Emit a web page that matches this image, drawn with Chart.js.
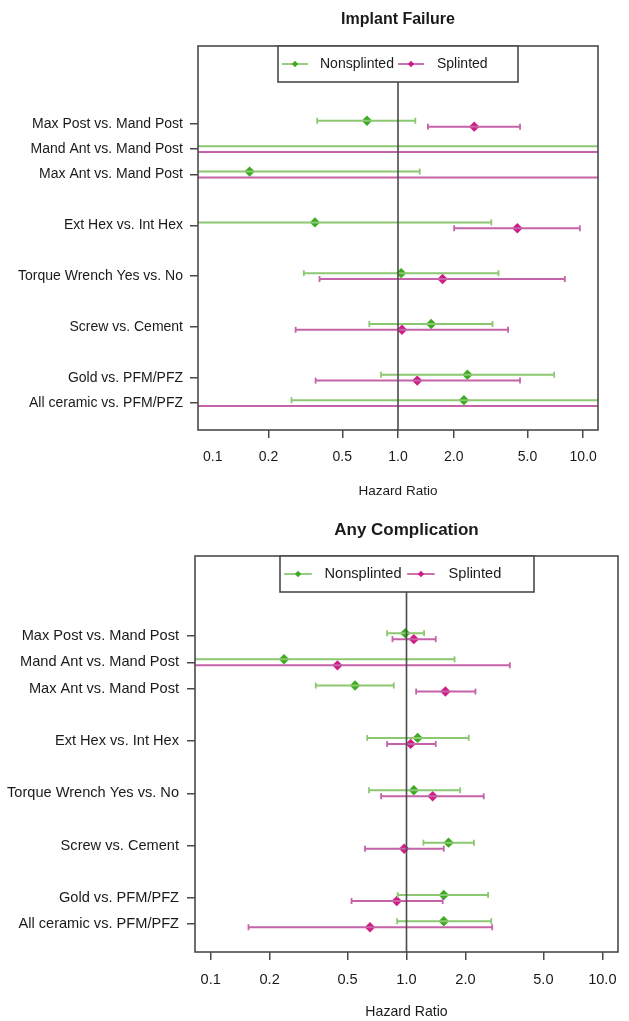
<!DOCTYPE html>
<html>
<head>
<meta charset="utf-8">
<title>Hazard ratios, splinted vs nonsplinted</title>
<script src="https://cdn.jsdelivr.net/npm/chart.js@4.4.1/dist/chart.umd.min.js"></script>
<style>
  html, body { margin: 0; padding: 0; background: #fff; }
  canvas { display: block; }
</style>
</head>
<body>
<canvas id="implantFailure" width="629" height="510"></canvas>
<canvas id="anyComplication" width="629" height="511"></canvas>
<script>
// Rows, top to bottom, and where they sit on the y scale
const comparisons = [
  'Max Post vs. Mand Post',
  'Mand Ant vs. Mand Post',
  'Max Ant vs. Mand Post',
  'Ext Hex vs. Int Hex',
  'Torque Wrench Yes vs. No',
  'Screw vs. Cement',
  'Gold vs. PFM/PFZ',
  'All ceramic vs. PFM/PFZ'
];
const rowPositions = [12, 11, 10, 8, 6, 4, 2, 1];
const hrTicks = [0.1, 0.2, 0.5, 1, 2, 5, 10];
const seriesNames = ['Nonsplinted', 'Splinted'];

// Implant Failure (null = estimate off the plot)
const failNonHR = [0.68, null, 0.158, 0.356, 1.04, 1.51, 2.37, 2.27];
const failNonLo = [0.366, 0.01, 0.03, 0.03, 0.31, 0.70, 0.81, 0.266];
const failNonHi = [1.24, 100, 1.31, 3.19, 3.49, 3.24, 6.97, 40];
const failSplHR = [2.58, null, null, 4.41, 1.74, 1.05, 1.27, null];
const failSplLo = [1.45, 0.01, 0.01, 2.01, 0.377, 0.28, 0.359, 0.01];
const failSplHi = [4.56, 100, 100, 9.6, 7.96, 3.93, 4.56, 100];

// Any Complication
const compNonHR = [0.985, 0.237, 0.546, 1.14, 1.09, 1.64, 1.55, 1.55];
const compNonLo = [0.796, 0.03, 0.344, 0.63, 0.644, 1.22, 0.902, 0.896];
const compNonHi = [1.23, 1.76, 0.861, 2.08, 1.88, 2.21, 2.61, 2.71];
const compSplHR = [1.09, 0.444, 1.58, 1.05, 1.36, 0.973, 0.892, 0.651];
const compSplLo = [0.848, 0.03, 1.12, 0.796, 0.742, 0.614, 0.524, 0.156];
const compSplHi = [1.41, 3.37, 2.25, 1.41, 2.48, 1.55, 1.53, 2.74];

const pointColors = ['#3dab20', '#d11b86'];
const barColors = ['#8cc771', '#c563a8'];
const rowOffsets = [0.115, -0.115];   // green sits just above the row, magenta just below
const axisColor = '#4a4a4a';
const textColor = '#1a1a1a';

Chart.defaults.font.family = '"Liberation Sans", Arial, sans-serif';
Chart.defaults.color = textColor;

function ciData(lo, hi, off) {
  const pts = [];
  lo.forEach((l, i) => {
    const y = rowPositions[i] + off;
    pts.push({ x: l, y: y }, { x: hi[i], y: y }, { x: hi[i], y: null });
  });
  return pts;
}

function hrData(hr, off) {
  return hr.map((v, i) => v == null ? null : { x: v, y: rowPositions[i] + off })
           .filter(p => p);
}

// box, reference line at HR = 1 and the R-style legend
const forestDecor = {
  id: 'forestDecor',
  afterDatasetsDraw(chart, args, opts) {
    const { ctx, chartArea: a } = chart;
    const x1 = chart.scales.x.getPixelForValue(1);
    ctx.save();
    ctx.strokeStyle = axisColor;
    ctx.lineWidth = 1.6;
    ctx.beginPath();
    ctx.moveTo(x1, a.top);
    ctx.lineTo(x1, a.bottom);
    ctx.stroke();
    ctx.strokeRect(a.left, a.top, a.right - a.left, a.bottom - a.top);

    // legend
    const s = opts.scale;
    const w = opts.width, h = opts.height;
    const left = Math.round((a.left + a.right) / 2 - w / 2);
    const top = a.top;
    ctx.fillStyle = '#fff';
    ctx.fillRect(left, top, w, h);
    ctx.strokeRect(left, top, w, h);
    const midY = top + h / 2;
    const lineStart = [4, 120];
    const textStart = [42, 159];
    ctx.font = opts.fontSize + 'px "Liberation Sans", Arial, sans-serif';
    ctx.textBaseline = 'middle';
    seriesNames.forEach((name, k) => {
      const lx = left + lineStart[k] * s;
      const len = 26 * s;
      ctx.strokeStyle = barColors[k];
      ctx.lineWidth = 1.8;
      ctx.beginPath();
      ctx.moveTo(lx, midY);
      ctx.lineTo(lx + len, midY);
      ctx.stroke();
      ctx.fillStyle = pointColors[k];
      const cx = lx + len / 2, r = 3.2;
      ctx.beginPath();
      ctx.moveTo(cx - r, midY);
      ctx.lineTo(cx, midY - r);
      ctx.lineTo(cx + r, midY);
      ctx.lineTo(cx, midY + r);
      ctx.closePath();
      ctx.fill();
      ctx.fillStyle = textColor;
      ctx.fillText(name, left + textStart[k] * s, midY);
    });
    ctx.restore();
  }
};

function forestChart(canvasId, cfg) {
  const datasets = [];
  cfg.series.forEach((sr, k) => {
    datasets.push({
      type: 'line',
      label: seriesNames[k] + ' 95% CI',
      data: ciData(sr.lo, sr.hi, rowOffsets[k]),
      borderColor: barColors[k],
      borderWidth: 2,
      fill: false,
      tension: 0,
      spanGaps: false,
      pointStyle: 'line',
      rotation: 90,
      pointRadius: 3,
      pointBorderColor: barColors[k],
      pointBorderWidth: 1.8
    });
  });
  cfg.series.forEach((sr, k) => {
    datasets.push({
      type: 'scatter',
      label: seriesNames[k],
      data: hrData(sr.hr, rowOffsets[k]),
      pointStyle: 'rectRot',
      pointRadius: 5.2,
      backgroundColor: pointColors[k],
      borderWidth: 0
    });
  });

  return new Chart(document.getElementById(canvasId), {
    type: 'scatter',
    data: { datasets: datasets },
    options: {
      responsive: false,
      animation: false,
      events: [],
      layout: { padding: { left: 0, right: cfg.padRight, top: 0, bottom: 0 } },
      plugins: {
        legend: { display: false },
        tooltip: { enabled: false },
        title: {
          display: true,
          text: cfg.title,
          fullSize: false,
          color: textColor,
          font: { size: cfg.titleSize, weight: 'bold', lineHeight: 1.2 },
          padding: cfg.titlePad
        },
        forestDecor: { scale: cfg.legendScale, width: cfg.legendWidth, height: 36, fontSize: cfg.fontSize }
      },
      scales: {
        x: {
          type: 'logarithmic',
          bounds: 'data',
          min: Math.pow(10, -1.08),
          max: Math.pow(10, 1.08),
          afterBuildTicks: (scale) => { scale.ticks = hrTicks.map(v => ({ value: v })); },
          afterFit: (scale) => { scale.height = cfg.xHeight; },
          border: { display: false },
          grid: {
            drawOnChartArea: false,
            drawTicks: true,
            tickLength: 8,
            lineWidth: 1.5,
            color: (ctx) => (cfg.hideFirstTick && ctx.tick && ctx.tick.value === 0.1) ? 'rgba(0,0,0,0)' : axisColor
          },
          ticks: {
            padding: cfg.xTickPad,
            font: { size: cfg.fontSize, lineHeight: 1.2 },
            color: textColor,
            maxRotation: 0,
            autoSkip: false,
            callback: (v) => Number(v).toFixed(1)
          },
          title: {
            display: true,
            text: 'Hazard Ratio',
            color: textColor,
            font: { size: cfg.fontSize - 0.5, lineHeight: 1.2 },
            padding: { top: 0, bottom: cfg.xTitlePad }
          }
        },
        y: {
          type: 'linear',
          bounds: 'data',
          min: -0.06,
          max: 15.06,
          afterBuildTicks: (scale) => { scale.ticks = rowPositions.map(v => ({ value: v })); },
          afterFit: (scale) => { scale.width = cfg.yWidth; },
          border: { display: false },
          grid: {
            drawOnChartArea: false,
            drawTicks: true,
            tickLength: 8,
            lineWidth: 1.5,
            color: axisColor
          },
          ticks: {
            padding: cfg.yTickPad,
            font: { size: cfg.fontSize },
            color: textColor,
            autoSkip: false,
            callback: (v) => comparisons[rowPositions.indexOf(v)]
          }
        }
      }
    },
    plugins: [forestDecor]
  });
}

forestChart('implantFailure', {
  title: 'Implant Failure',
  titleSize: 16,
  titlePad: { top: 10.4, bottom: 16.4 },
  fontSize: 14,
  yWidth: 198,
  padRight: 31,
  xHeight: 80,
  xTickPad: 10.6,
  xTitlePad: 10.6,
  yTickPad: 7,
  hideFirstTick: true,
  legendWidth: 240,
  legendScale: 1,
  series: [
    { hr: failNonHR, lo: failNonLo, hi: failNonHi },
    { hr: failSplHR, lo: failSplLo, hi: failSplHi }
  ]
});

forestChart('anyComplication', {
  title: 'Any Complication',
  titleSize: 17,
  titlePad: { top: 9.8, bottom: 15.8 },
  fontSize: 14.6,
  yWidth: 195,
  padRight: 11,
  xHeight: 69,
  xTickPad: 11,
  xTitlePad: 0,
  yTickPad: 8,
  hideFirstTick: false,
  legendWidth: 254,
  legendScale: 1.06,
  series: [
    { hr: compNonHR, lo: compNonLo, hi: compNonHi },
    { hr: compSplHR, lo: compSplLo, hi: compSplHi }
  ]
});
</script>
</body>
</html>
